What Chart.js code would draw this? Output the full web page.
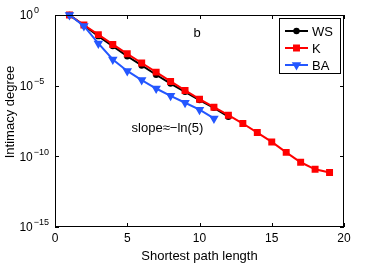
<!DOCTYPE html>
<html>
<head>
<meta charset="utf-8">
<script src="https://cdn.jsdelivr.net/npm/chart.js@4/dist/chart.umd.min.js"></script>
<style>
  html, body { margin: 0; padding: 0; background: #fff; }
  #wrap { width: 382px; height: 264px; }
</style>
</head>
<body>
<div id="wrap"><canvas id="c" width="382" height="264"></canvas></div>
<script>
// Data
const pathLength = [1, 2, 3, 4, 5, 6, 7, 8, 9, 10, 11, 12, 13, 14, 15, 16, 17, 18, 19];
const wsValues = [1, 1.9e-1, 3.2e-2, 6.3e-3, 1.2e-3, 2.7e-4, 5.9e-5, 1.4e-5, 3.7e-6, 9.5e-7, 2.7e-7, 6.3e-8];
const kValues = [1, 1.95e-1, 4.1e-2, 8.3e-3, 1.8e-3, 4.0e-4, 9.1e-5, 2.0e-5, 4.6e-6, 1.1e-6, 3.0e-7, 8.1e-8,
  2.1e-8, 4.8e-9, 1.05e-9, 1.9e-10, 3.8e-11, 1.2e-11, 7.1e-12];
const baValues = [1, 1.7e-1, 9.8e-3, 7.2e-4, 1.1e-4, 2.5e-5, 6.3e-6, 1.9e-6, 6.2e-7, 2.0e-7, 4.8e-8];
const xTicks = [0, 5, 10, 15, 20];
const yTickExps = [0, -5, -10, -15];

const FONT = "'Liberation Sans', Arial, sans-serif";

function toPoints(values) {
  return values.map((v, i) => ({ x: pathLength[i], y: v }));
}

// Frame, inward ticks, y labels, legend and notes (MATLAB look)
const matlabAxes = {
  id: 'matlabAxes',
  afterDraw(chart) {
    const { ctx, chartArea: a, scales } = chart;
    const xs = scales.x, ys = scales.y;
    ctx.save();
    ctx.strokeStyle = '#000';
    ctx.lineWidth = 1;
    ctx.strokeRect(a.left + 0.5, a.top + 0.5, a.right - a.left - 1, a.bottom - a.top - 1);

    ctx.beginPath();
    xTicks.forEach(t => {
      const px = Math.round(xs.getPixelForValue(t)) + 0.5;
      ctx.moveTo(px, a.bottom); ctx.lineTo(px, a.bottom - 4);
      ctx.moveTo(px, a.top); ctx.lineTo(px, a.top + 4);
    });
    yTickExps.forEach(e => {
      const py = Math.round(ys.getPixelForValue(Math.pow(10, e))) + 0.5;
      ctx.moveTo(a.left, py); ctx.lineTo(a.left + 4, py);
      ctx.moveTo(a.right, py); ctx.lineTo(a.right - 4, py);
    });
    ctx.stroke();

    // y tick labels 10^n
    ctx.fillStyle = '#000';
    ctx.textBaseline = 'middle';
    yTickExps.forEach(e => {
      const py = ys.getPixelForValue(Math.pow(10, e));
      const expText = e === 0 ? '0' : '\u2212' + Math.abs(e);
      ctx.font = '9px ' + FONT;
      const ew = ctx.measureText(expText).width;
      const baseRight = Math.min(a.left - 22, a.left - 7 - ew);
      ctx.font = '12px ' + FONT;
      ctx.textAlign = 'right';
      ctx.fillText('10', baseRight, py + 1);
      ctx.font = '9px ' + FONT;
      ctx.textAlign = 'left';
      ctx.fillText(expText, baseRight + 1, py - 4);
    });

    // y title
    ctx.save();
    ctx.translate(10, 112);
    ctx.rotate(-Math.PI / 2);
    ctx.font = '13px ' + FONT;
    ctx.textAlign = 'center';
    ctx.fillText('Intimacy degree', 0, 0);
    ctx.restore();

    // notes
    ctx.font = '13px ' + FONT;
    ctx.textAlign = 'center';
    ctx.fillText('b', xs.getPixelForValue(9.83), ys.getPixelForValue(0.046));
    ctx.textAlign = 'left';
    ctx.fillText('slope\u2248\u2212ln(5)', xs.getPixelForValue(5.3), ys.getPixelForValue(1e-8));

    // legend
    const lx = 279, ly = 18, lw = 61, lh = 55;
    ctx.fillStyle = '#fff';
    ctx.fillRect(lx, ly, lw, lh);
    ctx.strokeStyle = '#000';
    ctx.strokeRect(lx + 0.5, ly + 0.5, lw, lh);
    const rows = [31, 48, 65];
    chart.data.datasets.forEach((ds, i) => {
      const y = rows[i];
      ctx.strokeStyle = ds.borderColor;
      ctx.lineWidth = 2;
      ctx.beginPath();
      ctx.moveTo(285, y); ctx.lineTo(308, y);
      ctx.stroke();
      Chart.helpers.drawPoint(ctx, {
        pointStyle: ds.pointStyle, rotation: ds.rotation || 0,
        radius: ds.pointRadius, borderWidth: 1
      }, 296.5, y);
      ctx.fillStyle = ds.borderColor;
      ctx.fill();
      ctx.fillStyle = '#000';
      ctx.font = '13px ' + FONT;
      ctx.textAlign = 'left';
      ctx.textBaseline = 'middle';
      ctx.fillText(ds.label, 312, y + 1);
    });
    ctx.restore();
  }
};

const blue = '#2457ff';

new Chart(document.getElementById('c'), {
  type: 'line',
  data: {
    datasets: [
      {
        label: 'WS', data: toPoints(wsValues), borderColor: '#000', backgroundColor: '#000',
        pointStyle: 'circle', pointRadius: 2.2, borderWidth: 2, order: 3
      },
      {
        label: 'K', data: toPoints(kValues), borderColor: '#ff0000', backgroundColor: '#ff0000',
        pointStyle: 'rect', pointRadius: 3.5, borderWidth: 2, order: 2
      },
      {
        label: 'BA', data: toPoints(baValues), borderColor: blue, backgroundColor: blue,
        pointStyle: 'triangle', rotation: 180, pointRadius: 3.5, borderWidth: 2, order: 1
      }
    ]
  },
  options: {
    responsive: false,
    animation: false,
    devicePixelRatio: 1,
    layout: { padding: { left: 0, top: 15, right: 38, bottom: 0 } },
    elements: {
      line: { tension: 0, fill: false },
      point: { borderWidth: 1, hoverRadius: 4 }
    },
    datasets: { line: { clip: false } },
    plugins: { legend: { display: false }, tooltip: { enabled: false } },
    scales: {
      x: {
        type: 'linear', min: 0, max: 20,
        afterBuildTicks: s => { s.ticks = xTicks.map(v => ({ value: v })); },
        afterFit: s => { s.height = 37; },
        grid: { display: false, drawTicks: false },
        border: { display: false },
        ticks: { color: '#000', font: { family: FONT, size: 12 }, padding: 4, maxRotation: 0 },
        title: { display: true, text: 'Shortest path length', color: '#000', font: { family: FONT, size: 13 }, padding: { top: 0, bottom: 0 } }
      },
      y: {
        type: 'logarithmic', min: 1e-15, max: 1,
        afterBuildTicks: s => { s.ticks = yTickExps.map(e => ({ value: Math.pow(10, e) })); },
        afterFit: s => { s.width = 55; },
        grid: { display: false, drawTicks: false },
        border: { display: false },
        ticks: { display: false }
      }
    }
  },
  plugins: [matlabAxes]
});
</script>
</body>
</html>
